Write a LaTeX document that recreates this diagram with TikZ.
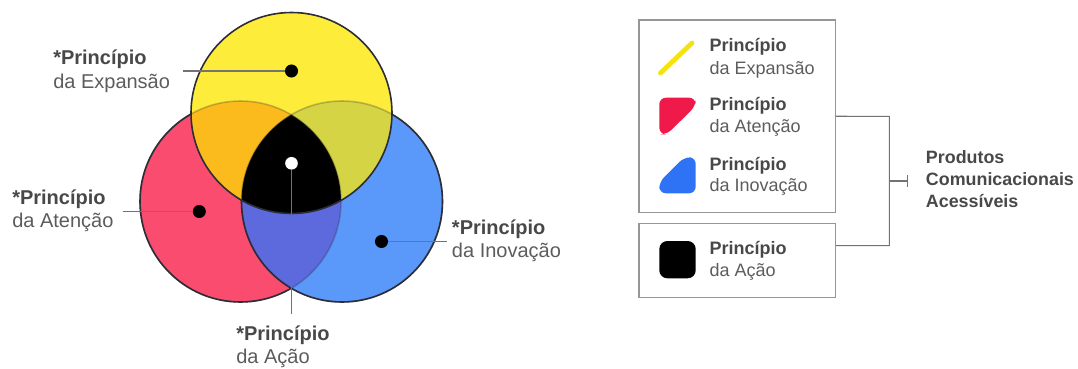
\documentclass[tikz,border=0pt]{standalone}
\usepackage{fontspec}
\setmainfont{Liberation Sans}
\usetikzlibrary{arrows.meta,fit}

% circle fills
\definecolor{cYel}{RGB}{254,236,58}
\definecolor{cRed}{RGB}{250,76,110}
\definecolor{cBlu}{RGB}{90,152,250}
\definecolor{cOra}{RGB}{252,187,28}
\definecolor{cOli}{RGB}{212,212,68}
\definecolor{cPur}{RGB}{92,106,222}
\definecolor{cEdge}{RGB}{45,45,55}
% legend icons
\definecolor{iYel}{RGB}{246,226,12}
\definecolor{iRed}{RGB}{240,26,74}
\definecolor{iBlu}{RGB}{46,115,245}
% text and lines
\definecolor{tBold}{RGB}{72,72,72}
\definecolor{tReg}{RGB}{92,92,92}
\definecolor{lGray}{RGB}{115,115,115}
\definecolor{bGray}{RGB}{150,150,150}

\tikzset{
  lblb/.style={font=\fontsize{15pt}{18pt}\selectfont\bfseries, text=tBold, inner sep=0pt, anchor=base west},
  lblr/.style={font=\fontsize{15pt}{18pt}\selectfont, text=tReg, inner sep=0pt, anchor=base west},
  legb/.style={font=\fontsize{13.5pt}{16pt}\selectfont\bfseries, text=tBold, inner sep=0pt, anchor=base west},
  legr/.style={font=\fontsize{13.5pt}{16pt}\selectfont, text=tReg, inner sep=0pt, anchor=base west},
  prod/.style={font=\fontsize{13.4pt}{16pt}\selectfont\bfseries, text=tBold, inner sep=0pt, anchor=base west},
  leader/.style={draw=lGray, line width=0.8pt},
  bdot/.style={circle, fill=black, inner sep=0pt, minimum size=9.8pt},
  wdot/.style={circle, fill=white, inner sep=0pt, minimum size=9.5pt},
  legbox/.style={draw=bGray, line width=0.8pt, inner sep=0pt},
  bracket/.style={draw=lGray, line width=0.8pt},
  edge/.style={draw=cEdge, line width=1.2pt},
  faint/.style={draw=cEdge, draw opacity=0.28, line width=1.2pt},
}

\newcommand{\rr}{100.5}

\begin{document}
\begin{tikzpicture}[x=0.75pt,y=-0.75pt]
\useasboundingbox (0,0) rectangle (1078,368);

% circle centres
\coordinate (Y) at (291.5,113);
\coordinate (R) at (240.5,201.5);
\coordinate (B) at (342,201.5);

% base fills
\fill[cRed] (R) circle[radius=\rr];
\fill[cBlu] (B) circle[radius=\rr];
\fill[cYel] (Y) circle[radius=\rr];

% pairwise overlaps and the common centre
\begin{scope}
  \clip (R) circle[radius=\rr];
  \fill[cPur] (B) circle[radius=\rr];
\end{scope}
\begin{scope}
  \clip (Y) circle[radius=\rr];
  \fill[cOra] (R) circle[radius=\rr];
  \fill[cOli] (B) circle[radius=\rr];
  \clip (R) circle[radius=\rr];
  \fill[black] (B) circle[radius=\rr];
\end{scope}

% outlines: covered arcs are faint, exposed arcs dark
\path[faint] (R) circle[radius=\rr];
\path[faint] (B) circle[radius=\rr];
\begin{scope}
  \clip (-100,-100) -- (1200,-100) -- (1200,500) -- (-100,500) -- cycle
        (Y) ++(\rr,0) arc[start angle=0, end angle=-360, radius=\rr];
  \path[edge] (B) circle[radius=\rr];
  \clip (-100,-100) -- (1200,-100) -- (1200,500) -- (-100,500) -- cycle
        (B) ++(\rr,0) arc[start angle=0, end angle=-360, radius=\rr];
  \path[edge] (R) circle[radius=\rr];
\end{scope}
\path[edge] (Y) circle[radius=\rr];

% markers and their leader lines
\node[bdot] (eD) at (291.5,71) {};
\node[bdot] (aD) at (199.3,211.5) {};
\node[bdot] (iD) at (381.5,241.5) {};
\node[wdot] (cD) at (291.5,163.3) {};
\coordinate (eL) at (182.7,71);
\coordinate (aL) at (122.7,211.5);
\coordinate (iL) at (447,241.5);
\coordinate (cL) at (291.5,314);
\path[leader] (eL) -- (eD);
\path[leader] (aL) -- (aD);
\path[leader] (iD) -- (iL);
\path[leader] (cD) -- (cL);

% labels round the circles
\node[lblb] (e1) at (53,64.3) {*Princípio};
\node[lblr] (e2) at (53,88.3) {da Expansão};
\node[lblb] (a1) at (12,204) {*Princípio};
\node[lblr] (a2) at (12,227.5) {da Atenção};
\node[lblb] (i1) at (451.7,234) {*Princípio};
\node[lblr] (i2) at (451.7,257.5) {da Inovação};
\node[lblb] (c1) at (236,340) {*Princípio};
\node[lblr] (c2) at (236,363.5) {da Ação};

% legend boxes
\node[legbox, fit={(639,20) (835.7,212.5)}] (b1) {};
\node[legbox, fit={(639,223.5) (835.7,297.3)}] (b2) {};

% legend icons
\draw[iYel, line width=3.6pt, line cap=round] (660.5,73) -- (692,43);
\fill[iRed, rounded corners=5pt] (659.3,97.7) -- (695.7,97.7) -- (695.7,106)
  -- (667,134.3) -- (659.3,134.3) -- cycle;
\fill[iBlu, rounded corners=5pt] (659.3,193.3) -- (695.7,193.3) -- (695.7,157.3)
  -- (684,157.3) -- (659.3,182) -- cycle;
\fill[black, rounded corners=6pt] (659.3,241) rectangle (695.7,278.3);

% legend texts
\node[legb] (l1a) at (709.3,51.7) {Princípio};
\node[legr] (l1b) at (709.3,74) {da Expansão};
\node[legb] (l2a) at (709.3,110.7) {Princípio};
\node[legr] (l2b) at (709.3,132.7) {da Atenção};
\node[legb] (l3a) at (709.3,170) {Princípio};
\node[legr] (l3b) at (709.3,191.7) {da Inovação};
\node[legb] (l4a) at (709.3,254.3) {Princípio};
\node[legr] (l4b) at (709.3,276) {da Ação};

% bracket joining both boxes
\coordinate (jT) at (889.3,116.4);
\coordinate (jB) at (889.3,245.7);
\coordinate (jM) at (889.3,181);
\coordinate (jE) at (908.3,181);
\path[bracket] (b1.east) -- (jT) -- (jB) -- (b2.east |- jB);
\path[bracket, -{Bar[width=9pt]}] (jM) -- (jE);

% result
\node[prod] (p1) at (925.7,163.3) {Produtos};
\node[prod] (p2) at (925.7,185.7) {Comunicacionais};
\node[prod] (p3) at (925.7,207.7) {Acessíveis};
\end{tikzpicture}
\end{document}
